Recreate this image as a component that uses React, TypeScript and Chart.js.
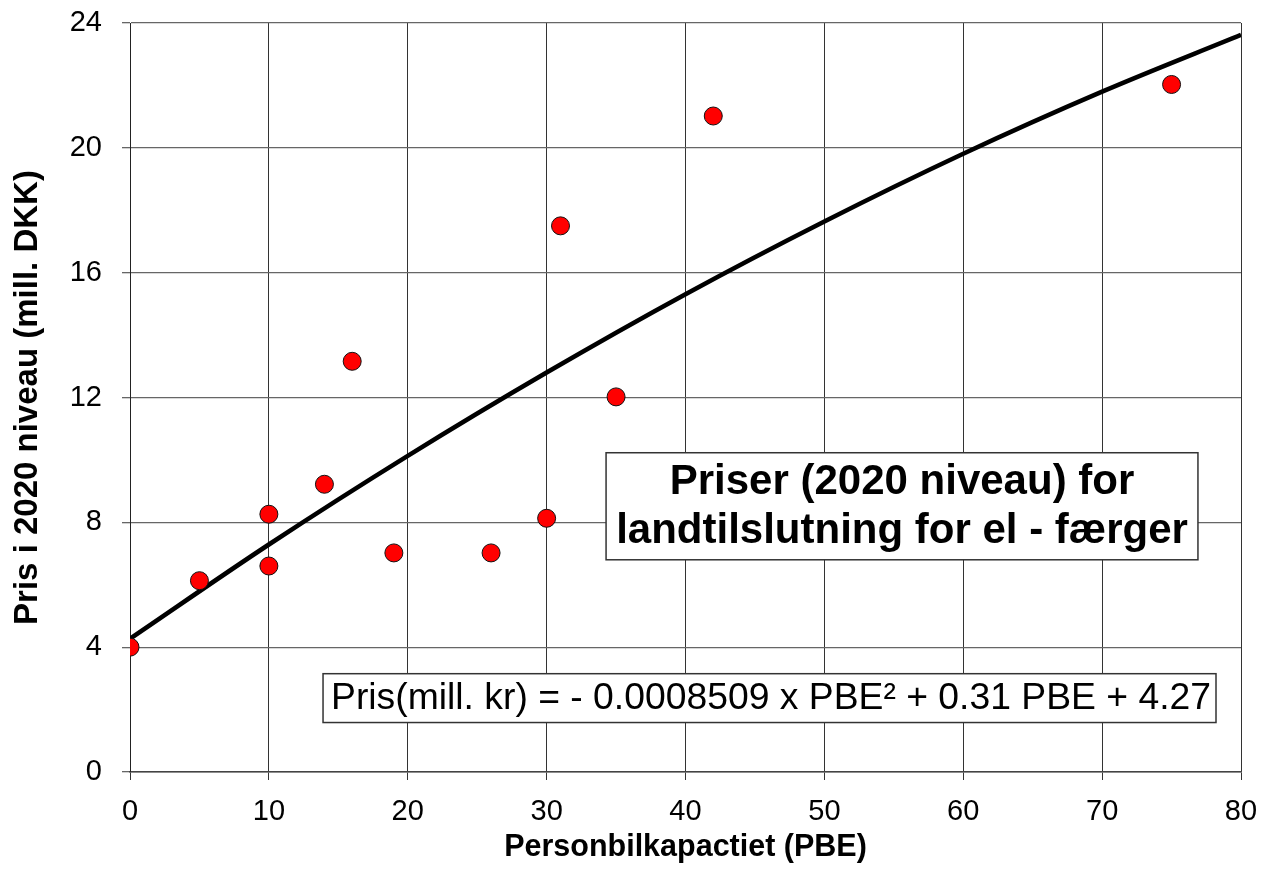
import React, { useEffect, useRef } from "react";
import { Chart, registerables } from "chart.js";

Chart.register(...registerables);

// Observed data: car capacity (PBE) vs price (mill. DKK, 2020 level)
const pbe = [0, 5, 10, 10, 14, 16, 19, 26, 30, 31, 35, 42, 75];
const price = [4.0, 6.13, 8.26, 6.6, 9.22, 13.16, 7.02, 7.02, 8.13, 17.5, 12.02, 21.02, 22.03];

// Trend curve
const trendX = [0, 10, 20, 30, 40, 50, 60, 70, 80];
const trendY = [4.27, 7.29, 10.13, 12.8, 15.31, 17.64, 19.81, 21.8, 23.62];

const xTicks = [0, 80, 10];
const yTicks = [0, 24, 4];

const titleLines = ["Priser (2020 niveau) for", "landtilslutning for el - færger"];
const equationText = "Pris(mill. kr) = - 0.0008509 x PBE² + 0.31 PBE + 4.27";
const xTitle = "Personbilkapactiet (PBE)";
const yTitle = "Pris i 2020 niveau (mill. DKK)";

const FONT = "'Liberation Sans', Arial, Helvetica, sans-serif";

const annotations = {
  id: "annotBoxes",
  afterDatasetsDraw(chart: any) {
    const { ctx, scales } = chart;
    const xs = scales.x;
    const ys = scales.y;
    const px = (v: number) => xs.getPixelForValue(v);
    const py = (v: number) => ys.getPixelForValue(v);
    ctx.save();
    // Title box
    {
      const l = px(34.28), r = px(76.9), t = py(10.23), b = py(6.8);
      ctx.fillStyle = "#fff";
      ctx.fillRect(l, t, r - l, b - t);
      ctx.strokeStyle = "#333";
      ctx.lineWidth = 1.5;
      ctx.strokeRect(l, t, r - l, b - t);
      ctx.fillStyle = "#000";
      ctx.font = `bold 42px ${FONT}`;
      ctx.textAlign = "center";
      ctx.textBaseline = "middle";
      const cx = (l + r) / 2;
      const cy = (t + b) / 2;
      ctx.fillText(titleLines[0], cx, cy - 24);
      ctx.fillText(titleLines[1], cx, cy + 25);
    }
    // Equation box
    {
      const l = px(13.9), r = px(78.2), t = py(3.15), b = py(1.585);
      ctx.fillStyle = "#fff";
      ctx.fillRect(l, t, r - l, b - t);
      ctx.strokeStyle = "#333";
      ctx.lineWidth = 1.5;
      ctx.strokeRect(l, t, r - l, b - t);
      ctx.fillStyle = "#000";
      ctx.font = `37.3px ${FONT}`;
      ctx.textAlign = "left";
      ctx.textBaseline = "middle";
      ctx.fillText(equationText, l + 8, (t + b) / 2 + 1);
    }
    ctx.restore();
  },
};

export default function App() {
  const ref = useRef<HTMLCanvasElement | null>(null);

  useEffect(() => {
    if (!ref.current) return;
    const chart = new Chart(ref.current, {
      type: "scatter",
      data: {
        datasets: [
          {
            label: "Priser",
            data: pbe.map((x, i) => ({ x, y: price[i] })),
            backgroundColor: "#ff0000",
            borderColor: "#111",
            borderWidth: 1,
            pointRadius: 9,
            order: 1,
          },
          {
            label: "Trend",
            type: "line",
            data: trendX.map((x, i) => ({ x, y: trendY[i] })),
            borderColor: "#000",
            borderWidth: 4.6,
            pointRadius: 0,
            fill: false,
            showLine: true,
            cubicInterpolationMode: "monotone",
            order: 2,
          } as any,
        ],
      },
      options: {
        responsive: false,
        animation: false,
        layout: { padding: { left: 0, right: 27, top: 23, bottom: 0 } },
        plugins: {
          legend: { display: false },
          tooltip: { enabled: false },
        },
        scales: {
          x: {
            type: "linear",
            min: xTicks[0],
            max: xTicks[1],
            ticks: {
              stepSize: xTicks[2],
              color: "#000",
              font: { family: FONT, size: 29 },
              padding: 15,
            },
            grid: { color: "#333", lineWidth: 1, tickLength: 8 },
            border: { color: "#444", width: 1.5 },
            title: {
              display: true,
              text: xTitle,
              color: "#000",
              font: { family: FONT, size: 30.5, weight: "bold" },
              padding: { top: 0, bottom: 4 },
            },
            afterFit: (s: any) => {
              s.height = 98;
              s.paddingLeft = 0;
              s.paddingRight = 0;
            },
          },
          y: {
            type: "linear",
            min: yTicks[0],
            max: yTicks[1],
            ticks: {
              stepSize: yTicks[2],
              color: "#000",
              font: { family: FONT, size: 29 },
              padding: 20,
            },
            grid: { color: "#666", lineWidth: 1.3, tickLength: 8 },
            border: { color: "#222", width: 1 },
            title: {
              display: true,
              text: yTitle,
              color: "#000",
              font: { family: FONT, size: 33, weight: "bold" },
              padding: { top: 8, bottom: 0 },
            },
            afterFit: (s: any) => {
              s.width = 130;
              s.paddingTop = 0;
              s.paddingBottom = 0;
            },
          },
        },
      },
      plugins: [annotations],
    });
    return () => chart.destroy();
  }, []);

  return (
    <div style={{ position: "fixed", left: 0, top: 0, width: 1268, height: 870, background: "#fff" }}>
      <canvas ref={ref} width={1268} height={870} style={{ display: "block" }} />
    </div>
  );
}
